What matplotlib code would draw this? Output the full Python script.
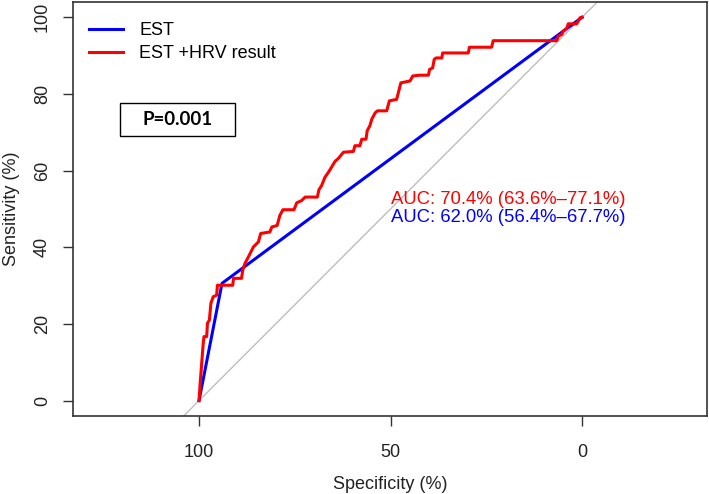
import numpy as np
import matplotlib
matplotlib.use('Agg')
import matplotlib.pyplot as plt
from matplotlib.patches import Rectangle

plt.rcParams['font.family'] = ['Liberation Sans', 'DejaVu Sans']

# ROC curves, (specificity %, sensitivity %)
est_spec = [100, 94.0, 0]
est_sens = [0, 30.6, 100]

hrv_spec = [100, 99.7, 99.3, 98.9, 98.7, 98.0, 97.8, 97.3, 96.9, 96.3, 95.4, 95.2,
            91.2, 91.0, 88.9, 88.6, 88.0, 86.9, 85.8, 84.5, 83.9, 81.5, 81.0, 79.6,
            78.9, 78.1, 75.2, 74.5, 73.2, 72.3, 69.1, 68.7, 68.0, 67.1, 66.2, 65.4,
            64.5, 63.6, 62.3, 59.7, 59.3, 58.0, 57.5, 56.4, 56.1, 55.4, 54.9, 54.0,
            53.4, 51.0, 50.3, 48.4, 47.3, 44.9, 44.2, 42.3, 40.1, 39.8, 39.0, 38.6,
            38.1, 36.6, 36.4, 29.7, 29.4, 23.6, 23.2, 6.6, 6.2, 5.3, 4.9, 4.0,
            3.6, 1.4, 1.0, 0.5, 0]
hrv_sens = [0, 4.6, 9.8, 15.0, 16.7, 16.7, 20.2, 21.0, 25.4, 27.1, 27.5, 30.1,
            30.1, 31.9, 31.9, 34.0, 35.8, 37.9, 40.1, 41.4, 43.6, 44.0, 45.3, 45.7,
            48.3, 49.8, 49.8, 51.6, 52.2, 53.1, 53.1, 55.0, 56.1, 58.3, 59.6, 60.9,
            62.4, 63.2, 64.8, 65.0, 66.5, 66.5, 68.2, 68.2, 70.4, 71.7, 73.4, 75.1,
            75.6, 75.6, 78.2, 78.6, 82.9, 83.4, 84.7, 84.9, 84.9, 86.4, 86.8, 89.0,
            89.4, 89.4, 90.7, 90.7, 92.2, 92.2, 93.9, 93.9, 95.1, 95.5, 96.4, 97.1,
            98.3, 98.3, 99.0, 99.9, 100]

auc_labels = ['AUC: 70.4% (63.6%\u201377.1%)', 'AUC: 62.0% (56.4%\u201367.7%)']
auc_y = [52.5, 47.8]
x_ticks = [100, 50, 0]
y_ticks = [0, 20, 40, 60, 80, 100]

fs = 13
txt = '#222222'

fig = plt.figure(figsize=(7.09, 4.94), dpi=100)
ax = fig.add_axes([0.103, 0.158, 0.894, 0.838])

# chance diagonal
ax.plot([140, -40], [-40, 140], color='#bebebe', lw=1.0, zorder=1)
ax.plot(est_spec, est_sens, color='#0000ff', lw=2.2, label='EST', zorder=3)
ax.plot(hrv_spec, hrv_sens, color='#ff0000', lw=2.2, label='EST +HRV result', zorder=4)

ax.set_xlim(132.9, -32.6)
ax.set_ylim(-4, 104)
ax.set_xticks(x_ticks)
ax.set_yticks(y_ticks)
ax.tick_params(axis='both', direction='out', length=7.5, width=1.0, color='#333333',
               labelsize=fs, labelcolor=txt)
ax.tick_params(axis='x', pad=13)
ax.tick_params(axis='y', pad=8.5)
plt.setp(ax.get_yticklabels(), rotation=90, va='center')
for s in ax.spines.values():
    s.set_linewidth(1.2)
    s.set_color('#333333')

ax.set_xlabel('Specificity (%)', fontsize=fs, color=txt)
ax.set_ylabel('Sensitivity (%)', fontsize=fs, color=txt)
ax.xaxis.set_label_coords(0.5, -0.145)
ax.yaxis.set_label_coords(-0.0836, 0.5)

for lab, yy, col in zip(auc_labels, auc_y, ['#ff0000', '#0000ff']):
    ax.text(50, yy, lab, color=col, fontsize=13.3, ha='left', va='center')

ax.legend(loc='upper left', bbox_to_anchor=(0.025, 0.951), frameon=False, fontsize=fs,
          handlelength=1.9, handletextpad=0.9, labelspacing=0.33, borderpad=0,
          borderaxespad=0)

# p-value box
ax.add_patch(Rectangle((0.0741, 0.6763), 0.1814, 0.0797, transform=ax.transAxes,
                       fill=False, edgecolor='black', lw=1.0))
ax.text(0.1648, 0.716, 'P=0.001', transform=ax.transAxes, ha='center', va='center',
        fontsize=13.5, fontweight='bold', family=['Lato', 'DejaVu Sans'])

fig.savefig('out.png', dpi=100)
